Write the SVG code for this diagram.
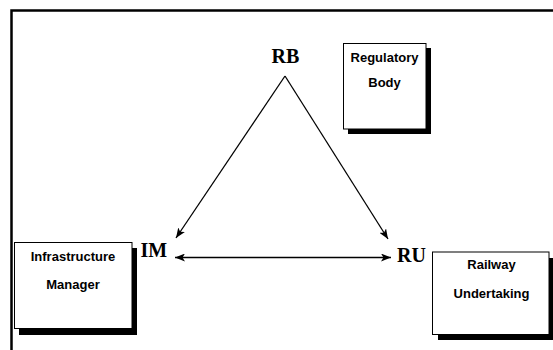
<svg xmlns="http://www.w3.org/2000/svg" width="553" height="350" viewBox="0 0 553 350">
  <defs>
    <marker id="arrow" viewBox="0 0 10 8" refX="10" refY="4" markerWidth="10" markerHeight="8" markerUnits="userSpaceOnUse" orient="auto-start-reverse">
      <path d="M0,0 L10,4 L0,8 L2.5,4 Z" fill="#000"/>
    </marker>
  </defs>
  <style>
    .box { fill: #fff; stroke: #000; stroke-width: 1; }
    .shadow { fill: #000; }
    .label { font-family: "Liberation Sans", Arial, sans-serif; font-weight: bold; font-size: 13px; fill: #000; text-anchor: middle; }
    .abbr { font-family: "Liberation Serif", "Times New Roman", serif; font-weight: bold; font-size: 20px; fill: #000; }
    .edge { stroke: #000; stroke-width: 1.3; fill: none; }
  </style>

  <rect width="553" height="350" fill="#fff"/>

  <!-- outer frame (top and left sides) -->
  <path d="M11.5,350 V10.5 H553" fill="none" stroke="#000" stroke-width="2.5"/>

  <g id="connectors">
    <line class="edge" x1="285" y1="76" x2="176" y2="238" marker-end="url(#arrow)"/>
    <line class="edge" x1="285" y1="76" x2="388" y2="239" marker-end="url(#arrow)"/>
    <line class="edge" x1="175" y1="257.5" x2="391" y2="257.5" marker-start="url(#arrow)" marker-end="url(#arrow)"/>
  </g>

  <g id="rb">
    <text class="abbr" x="271.5" y="63">RB</text>
  </g>
  <g id="im">
    <text class="abbr" x="140.5" y="257">IM</text>
  </g>
  <g id="ru">
    <text class="abbr" x="397" y="262">RU</text>
  </g>

  <g id="regulatory-body">
    <rect class="shadow" x="348" y="48" width="83" height="86"/>
    <rect class="box" x="343.5" y="43.5" width="82.5" height="85.5"/>
    <text class="label" x="384.5" y="62">Regulatory</text>
    <text class="label" x="384.5" y="87">Body</text>
  </g>

  <g id="infrastructure-manager">
    <rect class="shadow" x="19" y="248" width="118" height="87"/>
    <rect class="box" x="14.5" y="242.5" width="117.5" height="86"/>
    <text class="label" x="73" y="261">Infrastructure</text>
    <text class="label" x="73" y="289">Manager</text>
  </g>

  <g id="railway-undertaking">
    <rect class="shadow" x="438" y="258" width="115" height="82"/>
    <rect class="box" x="432.5" y="252" width="116.5" height="82.5"/>
    <text class="label" x="491.5" y="269">Railway</text>
    <text class="label" x="491.5" y="298">Undertaking</text>
  </g>
</svg>
